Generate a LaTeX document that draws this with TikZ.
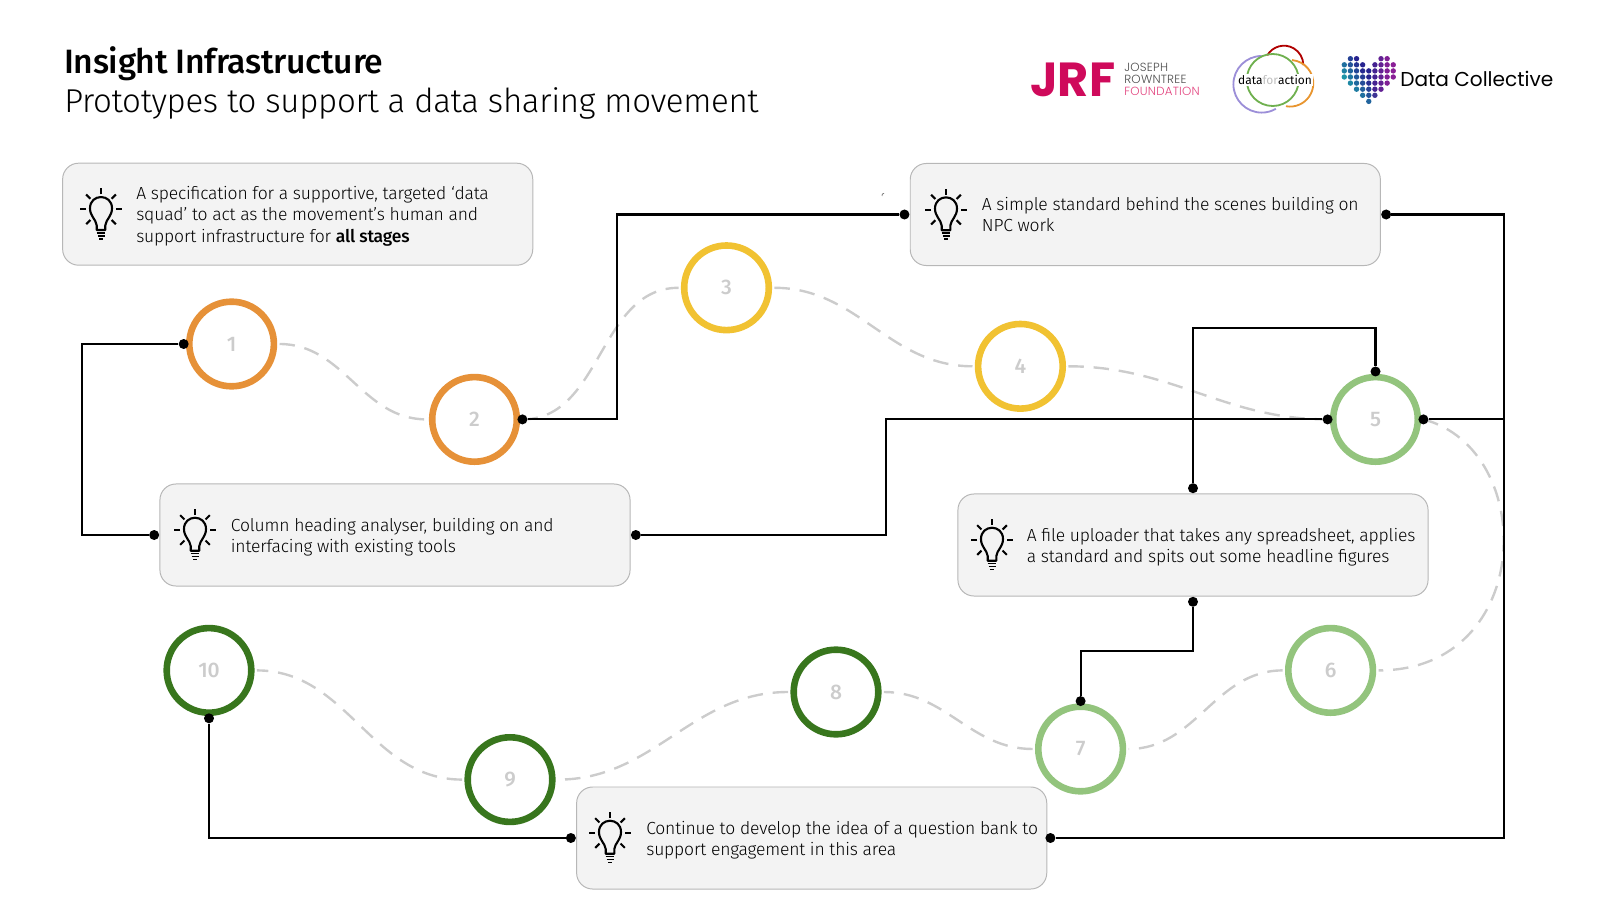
\documentclass[tikz,border=0pt]{standalone}
\usepackage{fontspec}
\setmainfont{Fira Sans Light}[BoldFont={Fira Sans Medium}, LetterSpace=-1]
\newfontfamily\regfont{Fira Sans}
\newfontfamily\logofont{Poppins}
\newfontfamily\logolight{Poppins Light}[LetterSpace=2]
\usetikzlibrary{arrows.meta, positioning}

\definecolor{boxfill}{HTML}{F3F3F3}
\definecolor{boxline}{HTML}{B7B7B7}
\definecolor{ringorange}{HTML}{E69138}
\definecolor{ringyellow}{HTML}{F1C232}
\definecolor{ringlight}{HTML}{93C47D}
\definecolor{ringdark}{HTML}{38761D}
\definecolor{stepgray}{HTML}{CCCCCC}
\definecolor{jrfred}{HTML}{CF0A5B}
\definecolor{jrfpink}{HTML}{E2457F}
\definecolor{heartteal}{HTML}{1C9AA8}
\definecolor{heartblue}{HTML}{27238F}
\definecolor{heartpurple}{HTML}{8A1F96}
\definecolor{dfared}{HTML}{B00000}
\definecolor{dfaorange}{HTML}{E8952F}
\definecolor{dfapurple}{HTML}{9C8FD8}
\definecolor{dfagreen}{HTML}{6FB04F}

\tikzset{
    stepring/.style={circle, draw=#1, line width=0.165cm, fill=white, minimum size=2.115cm, inner sep=0pt, outer sep=0.14cm,
        text=stepgray, font=\fontsize{15pt}{16pt}\selectfont\bfseries},
    infobox/.style={rectangle, rounded corners=0.4cm, draw=boxline, line width=0.7pt, fill=boxfill,
        minimum width=11.75cm, minimum height=2.55cm},
    infotext/.style={anchor=west, align=left, inner sep=0pt, font=\fontsize{12.45pt}{15.1pt}\selectfont},
    link/.style={line width=1.5pt, black},
    linkdot/.style={circle, fill=black, minimum size=0.25cm, inner sep=0pt},
    wave/.style={line width=1.7pt, stepgray, dash pattern=on 11pt off 7pt},
    dfaring/.style={line width=1.3pt, #1},
    bulb/.pic={
        \draw[line width=1.5pt, line join=round] (-4.3,20.7) -- (-4.3,16) .. controls (-5,10) and (-11,7) .. (-11,-1)
            .. controls (-11,-16) and (11,-16) .. (11,-1) .. controls (11,7) and (5,10) .. (4.3,16) -- (4.3,20.7) -- cycle;
        \foreach \ang in {0,45,90,135,180,-45,-135}
            \draw[line width=1.5pt] (\ang:-15) -- (\ang:-21);
        \draw[line width=1.2pt] (-4.3,23.5) -- (4.3,23.5);
        \draw[line width=1.2pt] (-3.5,26.5) -- (3.5,26.5);
        \draw[line width=1.2pt] (-2,29.5) -- (2,29.5);
    }
}

\begin{document}
\begin{tikzpicture}[x=0.025cm, y=-0.025cm, >=stealth]
    \useasboundingbox (0,0) rectangle (1600,900);

    % Title
    \node[anchor=base west, inner sep=0pt, font=\fontsize{24pt}{28pt}\selectfont\bfseries] (title) at (64,74) {Insight Infrastructure};
    \node[anchor=base west, inner sep=0pt, font=\fontsize{23.5pt}{28pt}\selectfont] (subtitle) at (64,113) {Prototypes to support a data sharing movement};

    % JRF logo
    \node[anchor=base west, inner sep=0pt, text=jrfred, font=\fontsize{34pt}{34pt}\logofont\bfseries] (jrf) at (1030,97) {JRF};
    \node[anchor=west, align=left, inner sep=0pt, text=black!70, font=\fontsize{8.4pt}{8.5pt}\logolight] (jrfname) at (1124,79) {JOSEPH\\ROWNTREE\\\textcolor{jrfpink}{FOUNDATION}};

    % Data for action logo
    \draw[dfaring=dfared] (1284,65) ++(-150:19.3) arc (-150:0:19.3);
    \draw[dfaring=dfaorange] (1290,83.3) ++(-85:23.3) arc (-85:100:23.3);
    \draw[dfaring=dfapurple] (1261.7,84.3) ++(-90:28.3) arc (-90:-300:28.3);
    \draw[dfaring=dfagreen] (1272.7,80) circle (26);
    \node[inner sep=1pt, fill=white, font=\fontsize{8.5pt}{9pt}\regfont] (dfa) at (1275,80) {data{\color{black!25}for}action};

    % Data Collective logo
    \foreach \ry/\cols in {0/{1,2,6,7},1/{0,1,2,3,5,6,7,8},2/{0,1,2,3,4,5,6,7,8},3/{0,1,2,3,4,5,6,7,8},4/{1,2,3,4,5,6,7},5/{2,3,4,5,6},6/{3,4,5},7/{4}}
        \foreach \cx in \cols {
            \pgfmathtruncatemacro\mixv{max(0,min(100,25*\cx+50-15*\ry))}
            \pgfmathtruncatemacro\mixp{max(0,min(100,30*(\cx-4)))}
            \fill[heartpurple!\mixp!heartblue!\mixv!heartteal] (1344.3+6.12*\cx,58.7+6.1*\ry) circle (2.7);
        }
    \node[anchor=base west, inner sep=0pt, font=\fontsize{14.3pt}{15pt}\logofont] (dc) at (1400,86.5) {Data Collective};

    % Info boxes
    \node[infobox] (boxA) at (297.7,214.2) {};
    \node[infobox] (boxB) at (1145.3,214.5) {};
    \node[infobox] (boxC) at (395,535) {};
    \node[infobox] (boxD) at (1193,545) {};
    \node[infobox] (boxE) at (811.7,838) {};

    \node[infotext] (textA) at (136,216.2) {A specification for a supportive, targeted ‘data\\squad’ to act as the movement’s human and\\support infrastructure for \textbf{all stages}};
    \node[infotext] (textB) at (981.6,214.5) {A simple standard behind the scenes building on\\NPC work};
    \node[infotext] (textC) at (230.6,537) {Column heading analyser, building on and\\interfacing with existing tools};
    \node[infotext] (textD) at (1026.5,547) {A file uploader that takes any spreadsheet, applies\\a standard and spits out some headline figures};
    \node[infotext] (textE) at (646,840) {Continue to develop the idea of a question bank to\\support engagement in this area};

    % Bulbs
    \pic at (101,209.3) {bulb};
    \pic at (946,209.6) {bulb};
    \pic at (195,530) {bulb};
    \pic at (992,540) {bulb};
    \pic at (610,833) {bulb};

    % Numbered rings
    \node[stepring=ringorange] (c1) at (231.6,344) {1};
    \node[stepring=ringorange] (c2) at (474.5,419.4) {2};
    \node[stepring=ringyellow] (c3) at (726.5,287.8) {3};
    \node[stepring=ringyellow] (c4) at (1020.4,366.3) {4};
    \node[stepring=ringlight] (c5) at (1375.5,419.4) {5};
    \node[stepring=ringlight] (c6) at (1330.6,670.4) {6};
    \node[stepring=ringlight] (c7) at (1080.6,749) {7};
    \node[stepring=ringdark] (c8) at (836,692) {8};
    \node[stepring=ringdark] (c9) at (510,779.6) {9};
    \node[stepring=ringdark] (c10) at (209,670.4) {10};

    % Dashed waves between the rings
    \draw[wave] (c1.east) to[out=0, in=180] (c2.west);
    \draw[wave] (c2.east) to[out=0, in=180] (c3.west);
    \draw[wave] (c3.east) to[out=0, in=180] (c4.west);
    \draw[wave] (c4.east) to[out=0, in=180] (c5.west);
    \draw[wave] (c5.east) .. controls +(115,30) and +(157,0) .. (c6.east);
    \draw[wave] (c6.west) to[out=180, in=0] (c7.east);
    \draw[wave] (c7.west) to[out=180, in=0] (c8.east);
    \draw[wave] (c8.west) to[out=180, in=0] (c9.east);
    \draw[wave] (c9.west) to[out=180, in=0] (c10.east);

    % Link dots
    \node[linkdot] (c1w) at (c1.west) {};
    \node[linkdot] (c2e) at (c2.east) {};
    \node[linkdot] (c5w) at (c5.west) {};
    \node[linkdot] (c5e) at (c5.east) {};
    \node[linkdot] (c5n) at (c5.north) {};
    \node[linkdot] (c7n) at (c7.north) {};
    \node[linkdot] (c10s) at (c10.south) {};
    \node[linkdot, right=0pt of boxB] (boxBe) {};
    \node[linkdot, left=0pt of boxB] (boxBw) {};
    \node[linkdot, left=0pt of boxC] (boxCw) {};
    \node[linkdot, right=0pt of boxC] (boxCe) {};
    \node[linkdot, above=0pt of boxD] (boxDn) {};
    \node[linkdot, below=0pt of boxD] (boxDs) {};
    \node[linkdot, left=0pt of boxE] (boxEw) {};
    \node[linkdot, right=-1.5pt of boxE] (boxEe) {};

    % Black links
    \draw[link] (c1w) -- ++(-102,0) |- (boxCw);
    \draw[link] (c2e) -- ++(94.5,0) |- (boxBw);
    \draw[link] (boxBe) -- ++(118,0) |- (boxEe);
    \draw[link] (boxCe) -- ++(250,0) |- (c5w);
    \draw[link] (c5e) -- ++(80.3,0);
    \draw[link] (boxDn) -- ++(0,-160) -| (c5n);
    \draw[link] (boxDs) -- ++(0,49) -| (c7n);
    \draw[link] (boxEw) -| (c10s);

    % Small stray mark
    \draw[line width=0.4pt, black!70] (882,196) -- (882.3,194) -- (884,193.5);
\end{tikzpicture}
\end{document}
